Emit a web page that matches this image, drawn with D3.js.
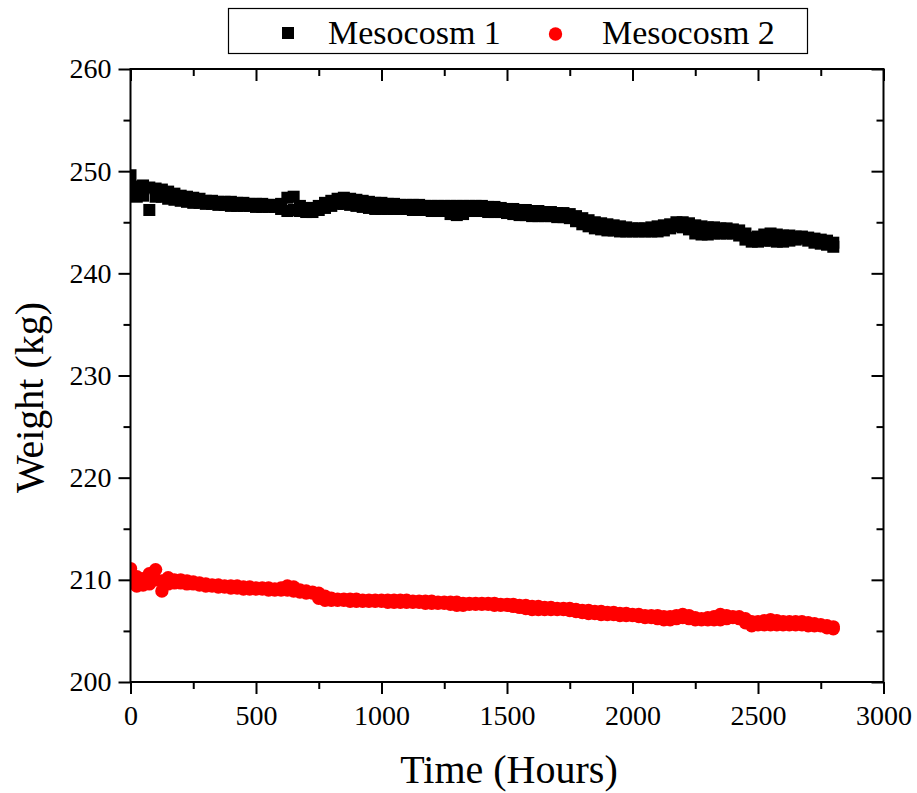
<!DOCTYPE html>
<html>
<head>
<meta charset="utf-8">
<script src="https://cdn.jsdelivr.net/npm/d3@7"></script>
<style>
  body { margin: 0; background: #fff; }
  text { font-family: 'Liberation Serif', 'Times New Roman', serif; fill: #000; }
</style>
</head>
<body>
<svg id="chart" width="917" height="793"></svg>
<script>
// readings every 25 h of the upper and lower edge of each band of points
const hours = [
  0, 25, 50, 75, 100, 125, 150, 175,
  200, 225, 250, 275, 300, 325, 350, 375,
  400, 425, 450, 475, 500, 525, 550, 575,
  600, 625, 650, 675, 700, 725, 750, 775,
  800, 825, 850, 875, 900, 925, 950, 975,
  1000, 1025, 1050, 1075, 1100, 1125, 1150, 1175,
  1200, 1225, 1250, 1275, 1300, 1325, 1350, 1375,
  1400, 1425, 1450, 1475, 1500, 1525, 1550, 1575,
  1600, 1625, 1650, 1675, 1700, 1725, 1750, 1775,
  1800, 1825, 1850, 1875, 1900, 1925, 1950, 1975,
  2000, 2025, 2050, 2075, 2100, 2125, 2150, 2175,
  2200, 2225, 2250, 2275, 2300, 2325, 2350, 2375,
  2400, 2425, 2450, 2475, 2500, 2525, 2550, 2575,
  2600, 2625, 2650, 2675, 2700, 2725, 2750, 2775,
  2800
]
const meso1High = [
  249.6, 248.5, 248.6, 248.4, 248.3, 248.2, 248.0, 247.8,
  247.6, 247.5, 247.4, 247.3, 247.1, 247.1, 247.0, 247.0,
  247.0, 246.9, 246.9, 246.8, 246.8, 246.8, 246.7, 246.7,
  246.8, 247.4, 247.5, 246.6, 246.4, 246.4, 246.6, 246.9,
  247.1, 247.3, 247.4, 247.3, 247.2, 247.1, 247.0, 246.9,
  246.9, 246.8, 246.8, 246.7, 246.7, 246.7, 246.7, 246.6,
  246.6, 246.6, 246.6, 246.6, 246.6, 246.6, 246.6, 246.6,
  246.6, 246.5, 246.5, 246.4, 246.3, 246.3, 246.2, 246.2,
  246.1, 246.1, 246.0, 246.0, 245.9, 245.9, 245.8, 245.6,
  245.4, 245.2, 245.0, 244.9, 244.8, 244.7, 244.6, 244.5,
  244.4, 244.4, 244.4, 244.5, 244.6, 244.7, 244.8, 245.0,
  245.0, 244.9, 244.7, 244.6, 244.5, 244.5, 244.4, 244.4,
  244.3, 244.2, 243.9, 243.5, 243.6, 243.8, 243.9, 243.8,
  243.7, 243.7, 243.6, 243.6, 243.5, 243.4, 243.3, 243.2,
  243.0
]
const meso1Low = [
  248.4, 247.5, 247.6, 246.2, 247.5, 247.5, 247.3, 247.2,
  247.1, 247.0, 246.9, 246.9, 246.8, 246.8, 246.7, 246.7,
  246.6, 246.6, 246.6, 246.6, 246.5, 246.5, 246.5, 246.5,
  246.3, 246.1, 246.2, 246.1, 246.0, 246.0, 246.2, 246.4,
  246.6, 246.8, 246.8, 246.7, 246.6, 246.5, 246.4, 246.3,
  246.3, 246.3, 246.3, 246.3, 246.3, 246.2, 246.2, 246.2,
  246.1, 246.1, 246.1, 245.8, 245.7, 245.8, 246.1, 246.1,
  246.1, 246.0, 246.0, 246.0, 245.9, 245.8, 245.7, 245.7,
  245.6, 245.6, 245.6, 245.6, 245.5, 245.5, 245.4, 245.1,
  244.8, 244.6, 244.4, 244.3, 244.2, 244.2, 244.1, 244.1,
  244.1, 244.1, 244.1, 244.1, 244.1, 244.2, 244.4, 244.6,
  244.5, 244.3, 243.9, 243.8, 243.8, 243.9, 243.9, 243.9,
  243.9, 243.7, 243.3, 243.1, 243.1, 243.2, 243.2, 243.1,
  243.1, 243.2, 243.3, 243.4, 243.2, 243.0, 242.9, 242.8,
  242.6
]
const meso2High = [
  211.1, 210.3, 210.1, 210.6, 211.0, 209.9, 210.2, 210.0,
  210.0, 209.9, 209.8, 209.7, 209.6, 209.5, 209.5, 209.4,
  209.4, 209.4, 209.3, 209.3, 209.2, 209.2, 209.2, 209.1,
  209.2, 209.4, 209.3, 209.0, 208.9, 208.8, 208.7, 208.4,
  208.2, 208.1, 208.1, 208.1, 208.1, 208.0, 208.0, 208.0,
  208.0, 208.0, 208.0, 208.0, 208.0, 207.9, 207.9, 207.9,
  207.9, 207.8, 207.8, 207.8, 207.8, 207.7, 207.7, 207.7,
  207.7, 207.7, 207.7, 207.6, 207.6, 207.6, 207.5, 207.5,
  207.4, 207.4, 207.3, 207.3, 207.2, 207.2, 207.2, 207.1,
  207.0, 207.0, 206.9, 206.9, 206.8, 206.8, 206.7, 206.7,
  206.6, 206.6, 206.5, 206.5, 206.5, 206.4, 206.4, 206.5,
  206.6, 206.5, 206.3, 206.2, 206.3, 206.4, 206.6, 206.5,
  206.4, 206.4, 206.2, 205.9, 205.9, 206.0, 206.1, 206.0,
  205.9, 205.9, 205.9, 205.9, 205.8, 205.7, 205.6, 205.5,
  205.4
]
const meso2Low = [
  210.1, 209.4, 209.5, 209.6, 210.0, 208.9, 209.6, 209.7,
  209.7, 209.6, 209.6, 209.5, 209.4, 209.4, 209.3, 209.3,
  209.2, 209.2, 209.1, 209.1, 209.1, 209.1, 209.0, 209.0,
  209.0, 209.0, 208.9, 208.8, 208.7, 208.7, 208.2, 208.0,
  208.0, 208.0, 208.0, 207.9, 207.9, 207.9, 207.9, 207.9,
  207.9, 207.8, 207.8, 207.8, 207.8, 207.8, 207.8, 207.7,
  207.7, 207.7, 207.7, 207.6, 207.5, 207.5, 207.6, 207.6,
  207.6, 207.6, 207.5, 207.5, 207.5, 207.4, 207.3, 207.2,
  207.1, 207.1, 207.1, 207.1, 207.1, 207.1, 207.0, 206.9,
  206.8, 206.7, 206.7, 206.6, 206.6, 206.6, 206.5, 206.5,
  206.5, 206.4, 206.3, 206.3, 206.2, 206.1, 206.1, 206.2,
  206.3, 206.2, 206.1, 206.1, 206.1, 206.1, 206.1, 206.2,
  206.3, 206.2, 205.8, 205.5, 205.6, 205.6, 205.6, 205.6,
  205.6, 205.6, 205.6, 205.6, 205.5, 205.5, 205.5, 205.3,
  205.2
]
const xTicks = [0, 500, 1000, 1500, 2000, 2500, 3000]
const xMinorTicks = [250, 750, 1250, 1750, 2250, 2750]
const yTicks = [200, 210, 220, 230, 240, 250, 260]
const yMinorTicks = [205, 215, 225, 235, 245, 255]
const seriesNames = ['Mesocosm 1', 'Mesocosm 2']

const serif = "'Liberation Serif', 'Times New Roman', serif"
const svg = d3.select('#chart')
const margin = { left: 130.5, right: 33.5, top: 69, bottom: 111 }
const width = 917
const height = 793
const innerWidth = width - margin.left - margin.right
const innerHeight = height - margin.top - margin.bottom

const xScale = d3.scaleLinear().domain([0, 3000]).range([margin.left, margin.left + innerWidth])
const yScale = d3.scaleLinear().domain([200, 260]).range([margin.top + innerHeight, margin.top])

svg.append('defs').append('clipPath').attr('id', 'plot-clip')
  .append('rect')
  .attr('x', margin.left).attr('y', margin.top)
  .attr('width', innerWidth).attr('height', innerHeight)

const plot = svg.append('g').attr('clip-path', 'url(#plot-clip)')
const sq = 12
const rad = 6.7

const points = (hi, lo) => hours.flatMap((h, i) => [{ h, v: hi[i] }, { h, v: lo[i] }])

plot.append('g').selectAll('rect')
  .data(points(meso1High, meso1Low))
  .join('rect')
  .attr('x', d => xScale(d.h) - sq / 2)
  .attr('y', d => yScale(d.v) - sq / 2)
  .attr('width', sq)
  .attr('height', sq)
  .attr('fill', '#000')

plot.append('g').selectAll('circle')
  .data(points(meso2High, meso2Low))
  .join('circle')
  .attr('cx', d => xScale(d.h))
  .attr('cy', d => yScale(d.v))
  .attr('r', rad)
  .attr('fill', '#ff0000')

// ticks: outward on left/bottom, mirrored inward on top/right
const axisStyle = (g, labelled) => {
  g.select('.domain').remove()
  g.attr('font-family', serif)
  g.selectAll('line').attr('stroke', '#000').attr('stroke-width', 2)
  if (labelled) g.selectAll('text').style('font-size', '28px').style('font-family', serif)
  else g.selectAll('text').remove()
}
const addAxis = (axis, transform, labelled) =>
  svg.append('g').attr('transform', transform).call(axis).call(g => axisStyle(g, labelled))

const bottomT = `translate(0, ${margin.top + innerHeight})`
const topT = `translate(0, ${margin.top})`
const leftT = `translate(${margin.left}, 0)`
const rightT = `translate(${margin.left + innerWidth}, 0)`

addAxis(d3.axisBottom(xScale).tickValues(xTicks).tickSize(12).tickPadding(11).tickFormat(d3.format('d')), bottomT, true)
addAxis(d3.axisBottom(xScale).tickValues(xMinorTicks).tickSize(7), bottomT, false)
addAxis(d3.axisLeft(yScale).tickValues(yTicks).tickSize(12).tickPadding(7).tickFormat(d3.format('d')), leftT, true)
addAxis(d3.axisLeft(yScale).tickValues(yMinorTicks).tickSize(7), leftT, false)
addAxis(d3.axisBottom(xScale).tickValues(xTicks).tickSize(12), topT, false)
addAxis(d3.axisBottom(xScale).tickValues(xMinorTicks).tickSize(7), topT, false)
addAxis(d3.axisLeft(yScale).tickValues(yTicks).tickSize(12), rightT, false)
addAxis(d3.axisLeft(yScale).tickValues(yMinorTicks).tickSize(7), rightT, false)

svg.append('rect')
  .attr('x', margin.left).attr('y', margin.top)
  .attr('width', innerWidth).attr('height', innerHeight)
  .attr('fill', 'none').attr('stroke', '#000').attr('stroke-width', 2)

svg.append('text')
  .attr('x', margin.left + innerWidth / 2 + 2)
  .attr('y', 783)
  .attr('text-anchor', 'middle')
  .style('font-size', '40px')
  .text('Time (Hours)')

svg.append('text')
  .attr('transform', `translate(43, ${margin.top + innerHeight / 2 + 22}) rotate(-90)`)
  .attr('text-anchor', 'middle')
  .style('font-size', '40px')
  .text('Weight (kg)')

// legend
const legend = svg.append('g')
legend.append('rect')
  .attr('x', 228.5).attr('y', 8.5).attr('width', 579).attr('height', 45)
  .attr('fill', '#fff').attr('stroke', '#000').attr('stroke-width', 1.2)
legend.append('rect')
  .attr('x', 288 - sq / 2).attr('y', 33 - sq / 2).attr('width', sq).attr('height', sq)
  .attr('fill', '#000')
legend.append('circle')
  .attr('cx', 555.5).attr('cy', 34).attr('r', rad)
  .attr('fill', '#ff0000')
legend.selectAll('text.label')
  .data(seriesNames)
  .join('text')
  .attr('class', 'label')
  .attr('x', (d, i) => (i === 0 ? 328 : 602))
  .attr('y', 44)
  .style('font-size', '34px')
  .text(d => d)
</script>
</body>
</html>
